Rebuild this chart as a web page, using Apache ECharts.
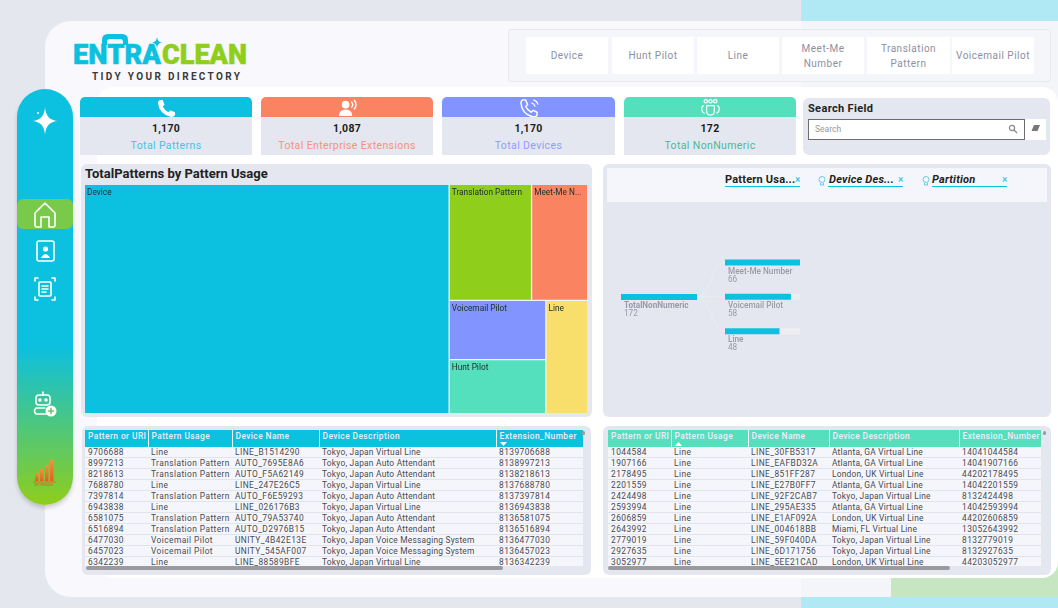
<!DOCTYPE html>
<html>
<head>
<meta charset="utf-8">
<title>EntraClean</title>
<script src="https://cdn.jsdelivr.net/npm/echarts@6/dist/echarts.min.js"></script>
<style>
html,body{margin:0;padding:0;width:1058px;height:608px;overflow:hidden;background:#e4e7ee;font-family:Roboto,"Noto Sans",sans-serif;}
.abs{position:absolute;box-sizing:border-box;}
.panel{background:#e4e7ef;border-radius:6px;}
.nav-btn{background:#fff;color:#8c8fa0;font-size:10px;letter-spacing:.5px;line-height:15px;display:flex;align-items:center;justify-content:center;text-align:center;}
.card-top{border-radius:5px 5px 0 0;display:flex;align-items:center;justify-content:center;}
.card-body{background:#e4e7ef;text-align:center;}
.card-value{font-size:10.5px;font-weight:700;color:#1c1c1c;margin-top:5px;letter-spacing:.3px;}
.card-label{font-size:10.5px;margin-top:4px;letter-spacing:.38px;}
.tbl{background:#f5f6fb;overflow:hidden;}
.tbl table{border-collapse:collapse;table-layout:fixed;font-size:8.4px;letter-spacing:.42px;color:#4a4a50;}
.tbl th{height:17px;padding:0 0 5px 3px;text-align:left;font-weight:500;color:#eef;border-right:1px solid rgba(255,255,255,.35);white-space:nowrap;overflow:hidden;box-sizing:border-box;}
.tbl td{height:10.9px;line-height:8.9px;padding:1px 0 0 3px;border-bottom:1px solid #e2e4ec;white-space:nowrap;overflow:hidden;box-sizing:border-box;}
.tbl td:nth-child(4){letter-spacing:.22px;}
.filter{font-size:11px;font-weight:700;color:#222;letter-spacing:.2px;}
</style>
</head>
<body>
<div class="abs" style="left:801px;top:0;width:257px;height:608px;background:#b0e9f3"></div>
<div class="abs" style="left:45px;top:21px;width:1040px;height:576px;background:#f8f8fd;border-radius:26px"></div>
<div class="abs" style="left:801px;top:21px;width:257px;height:576px;background:#f4f5f9"></div>
<div class="abs" style="left:891px;top:540px;width:167px;height:57px;background:#c6e6c2;border-radius:12px 0 0 0"></div>
<div class="abs" style="left:97px;top:87px;width:961px;height:491px;background:#fff;border-radius:16px"></div>
<div class="abs" style="left:17px;top:89px;width:56px;height:416px;border-radius:28px;background:linear-gradient(180deg,#0cc0df 0%,#0cc0df 62%,#8fce1b 100%);box-shadow:0 3px 4px rgba(0,0,0,.18)"></div>
<div class="abs" style="left:17px;top:199px;width:56px;height:30px;border-radius:6px;background:#79c94b"></div>

<!-- sidebar icons -->
<svg class="abs" style="left:17px;top:89px" width="56" height="416" viewBox="0 0 56 416" fill="none" stroke="#fff" stroke-width="1.6" stroke-linejoin="round" stroke-linecap="round">
<path d="M28 18 Q28.700 31.300 41 32 Q28.700 32.700 28 46 Q27.300 32.700 15 32 Q27.300 31.300 28 18Z" fill="#fff" stroke="none"/>
<circle cx="21" cy="24" r="1" fill="#fff" stroke="none"/>
<path d="M18 136 V124 L28 114 L38 124 V136 Q38 138 36 138 H32 V128 H24 V138 H20 Q18 138 18 136Z"/>
<rect x="20" y="152" width="17" height="20" rx="2"/><circle cx="28.500" cy="160" r="2.600" fill="#fff" stroke="none"/><path d="M24 169 Q28.500 161 33 169Z" fill="#fff" stroke="none"/>
<rect x="22" y="193" width="12" height="14" rx="1"/><path d="M25 197 H31 M25 200 H31 M25 203 H29"/>
<path d="M18 192 V189 H21 M35 189 H38 V192 M38 208 V211 H35 M21 211 H18 V208"/>
<rect x="19" y="306" width="14" height="10" rx="3"/><path d="M26 306 V303 M19 325 H31 M19 319 H28 M19 319 Q16 322 19 325"/><circle cx="23" cy="311" r="1" fill="#fff"/><circle cx="29" cy="311" r="1" fill="#fff"/>
<circle cx="34" cy="322" r="5.500" fill="#fff" stroke="none"/><path d="M34 319.500 V324.500 M31.500 322 H36.500" stroke="#6cc76a"/>
</svg>
<svg class="abs" style="left:30px;top:458px" width="28" height="30" viewBox="0 0 28 30">
<defs><linearGradient id="barFill" x1="0" y1="0" x2="0" y2="1"><stop offset="0" stop-color="#f0953a"/><stop offset="1" stop-color="#e0601f"/></linearGradient></defs>
<g fill="url(#barFill)"><rect x="5" y="15" width="3.500" height="8"/><rect x="10" y="11" width="3.500" height="12"/><rect x="15" y="7" width="3.500" height="16"/><rect x="20" y="2" width="3.500" height="21"/></g>
<path d="M3 24 H26" stroke="#e0601f" stroke-width=".8"/>
<text x="14" y="28" font-size="3.300" text-anchor="middle" fill="#d9602a">METRIMAGE</text>
</svg>

<!-- logo -->
<svg class="abs" style="left:70px;top:30px" width="185" height="56" viewBox="0 0 185 56">
<path d="M32 15 V10 Q32 4 38 4 H52 Q58 4 58 10 V15 H53 V12 Q53 9 50 9 H40 Q37 9 37 12 V15Z" fill="#0cc0df"/>
<text x="3" y="34" font-family="Roboto" font-weight="900" font-size="27" fill="#0cc0df" stroke="#0cc0df" stroke-width=".5" textLength="88" lengthAdjust="spacingAndGlyphs">ENTRA</text>
<text x="92" y="34" font-family="Roboto" font-weight="900" font-size="27" fill="#8fce1b" stroke="#8fce1b" stroke-width=".5" textLength="85" lengthAdjust="spacingAndGlyphs">CLEAN</text>
<path d="M87 7 Q87.500 12 92 12.500 Q87.500 13 87 18 Q86.500 13 82 12.500 Q86.500 12 87 7Z" fill="#0cc0df"/>
</svg>
<div class="abs" style="left:92px;top:71px;font-size:10px;font-weight:700;letter-spacing:2.35px;color:#3a3a3a;white-space:nowrap">TIDY YOUR DIRECTORY</div>

<!-- usage buttons -->
<div class="abs" style="left:508px;top:29px;width:543px;height:53px;background:#f5f6fa;border:1px solid #e8e9ef;border-radius:3px"></div>
<div id="navBtns"></div>

<div id="cards"></div>

<!-- search -->
<div class="abs panel" style="left:803px;top:98px;width:247px;height:57px"></div>
<div class="abs" style="left:808px;top:102px;font-size:11px;font-weight:700;color:#222;letter-spacing:.35px">Search Field</div>
<div class="abs" style="left:808px;top:119px;width:217px;height:21px;background:#fff;border:1px solid #6d6d6d;font-size:8.500px;color:#999;line-height:19px;padding-left:6px">Search</div>
<div class="abs" style="left:1025px;top:119px;width:21px;height:21px;background:#fff"></div>
<svg class="abs" style="left:1008px;top:124px" width="10" height="10" viewBox="0 0 10 10" fill="none" stroke="#888" stroke-width="1.200"><circle cx="4" cy="4" r="2.600"/><path d="M6 6 L9 9"/></svg>
<svg class="abs" style="left:1030px;top:124px" width="11" height="10" viewBox="0 0 11 10"><path d="M4 1 H10 L7.500 7 H1.500Z" fill="#777"/></svg>

<!-- treemap panel -->
<div class="abs panel" style="left:81px;top:164px;width:511px;height:253px"></div>
<div class="abs" style="left:85px;top:166px;font-size:13px;font-weight:700;color:#222;letter-spacing:.02px;white-space:nowrap">TotalPatterns by Pattern Usage</div>
<div id="treemap" class="abs" style="left:84px;top:184px;width:504px;height:230px"></div>

<!-- decomposition panel -->
<div class="abs panel" style="left:603px;top:164px;width:448px;height:253px"></div>
<div class="abs" style="left:607px;top:168px;width:440px;height:34px;background:#f5f6fb"></div>
<div id="filters"></div>
<div id="decomp" class="abs" style="left:603px;top:204px;width:448px;height:210px"></div>

<!-- tables -->
<div class="abs panel" style="left:82px;top:426px;width:509px;height:149px"></div>
<div id="tableOne" class="abs tbl" style="left:85px;top:430px;width:498px;height:136px"></div>
<div class="abs" style="left:86px;top:566px;width:417px;height:3.500px;background:#9b9b9f;border-radius:2px"></div>
<div class="abs" style="left:582px;top:431px;width:3px;height:4px;background:#9b9b9f;border-radius:2px"></div>

<div class="abs panel" style="left:603px;top:426px;width:448px;height:149px"></div>
<div id="tableTwo" class="abs tbl" style="left:608px;top:430px;width:433px;height:136px"></div>
<div class="abs" style="left:608px;top:566px;width:342px;height:3.500px;background:#9b9b9f;border-radius:2px"></div>
<div class="abs" style="left:1043px;top:431px;width:3px;height:4px;background:#9b9b9f;border-radius:2px"></div>

<script>
var navLabels = ["Device","Hunt Pilot","Line","Meet-Me<br>Number","Translation<br>Pattern","Voicemail Pilot"];

var cardLabels = ["Total Patterns","Total Enterprise Extensions","Total Devices","Total NonNumeric"];
var cardValues = ["1,170","1,087","1,170","172"];

var usageNames = ["Device","Translation Pattern","Meet-Me Number","Voicemail Pilot","Hunt Pilot","Line"];
var usageValues = [848,97,66,58,53,48];
var usageColors = ["#0cc0df","#8fce1b","#fa8461","#8294ff","#55e0bd","#f8df6b"];

var treeRootName = "TotalNonNumeric";
var treeRootValue = 172;
var treeNames = ["Meet-Me Number","Voicemail Pilot","Line"];
var treeValues = [66,58,48];
var filterNames = ["Pattern Usa...","Device Des...","Partition"];

var tableHeaders = ["Pattern or URI","Pattern Usage","Device Name","Device Description","Extension_Number"];
var tableOneRows = [
    ["9706688","Line","LINE_B1514290","Tokyo, Japan Virtual Line","8139706688"],
    ["8997213","Translation Pattern","AUTO_7695E8A6","Tokyo, Japan Auto Attendant","8138997213"],
    ["8218613","Translation Pattern","AUTO_F5A62149","Tokyo, Japan Auto Attendant","8138218613"],
    ["7688780","Line","LINE_247E26C5","Tokyo, Japan Virtual Line","8137688780"],
    ["7397814","Translation Pattern","AUTO_F6E59293","Tokyo, Japan Auto Attendant","8137397814"],
    ["6943838","Line","LINE_026176B3","Tokyo, Japan Virtual Line","8136943838"],
    ["6581075","Translation Pattern","AUTO_79A53740","Tokyo, Japan Auto Attendant","8136581075"],
    ["6516894","Translation Pattern","AUTO_D2976B15","Tokyo, Japan Auto Attendant","8136516894"],
    ["6477030","Voicemail Pilot","UNITY_4B42E13E","Tokyo, Japan Voice Messaging System","8136477030"],
    ["6457023","Voicemail Pilot","UNITY_545AF007","Tokyo, Japan Voice Messaging System","8136457023"],
    ["6342239","Line","LINE_88589BFE","Tokyo, Japan Virtual Line","8136342239"]
];
var tableTwoRows = [
    ["1044584","Line","LINE_30FB5317","Atlanta, GA Virtual Line","14041044584"],
    ["1907166","Line","LINE_EAFBD32A","Atlanta, GA Virtual Line","14041907166"],
    ["2178495","Line","LINE_851FF287","London, UK Virtual Line","44202178495"],
    ["2201559","Line","LINE_E27B0FF7","Atlanta, GA Virtual Line","14042201559"],
    ["2424498","Line","LINE_92F2CAB7","Tokyo, Japan Virtual Line","8132424498"],
    ["2593994","Line","LINE_295AE335","Atlanta, GA Virtual Line","14042593994"],
    ["2606859","Line","LINE_E1AF092A","London, UK Virtual Line","44202606859"],
    ["2643992","Line","LINE_004618BB","Miami, FL Virtual Line","13052643992"],
    ["2779019","Line","LINE_59F040DA","Tokyo, Japan Virtual Line","8132779019"],
    ["2927635","Line","LINE_6D171756","Tokyo, Japan Virtual Line","8132927635"],
    ["3052977","Line","LINE_5EE21CAD","London, UK Virtual Line","44203052977"]
];

var cardIcons = [
    '<path d="M4 2 L7 2 L9 7 L7 9 Q9 13 13 15 L15 13 L20 15 L20 18 Q19 20 16 20 Q3 17 2 5 Q2 3 4 2Z" fill="#fff"/>',
    '<circle cx="9" cy="7" r="4" fill="#fff"/><path d="M2 19 Q2 12 9 12 Q16 12 16 19Z" fill="#fff"/><path d="M15 4 Q18 7 15 10 M18 2 Q22 7 18 12" fill="none" stroke="#fff" stroke-width="1.500"/>',
    '<path d="M5 2 L8 2 L10 7 L8 9 Q10 13 14 15 L16 13 L20 15 L20 18 Q19 20 16 20 Q4 17 3 5 Q3 3 5 2Z" fill="none" stroke="#fff" stroke-width="1.500"/><path d="M14 5 Q17 6 18 9 M16 2 Q20 3 21 7" fill="none" stroke="#fff" stroke-width="1.300"/>',
    '<g fill="none" stroke="#fff" stroke-width="1.200"><circle cx="6" cy="3.500" r="1.800"/><circle cx="11" cy="3.500" r="1.800"/><circle cx="16" cy="3.500" r="1.800"/><path d="M7 8 H15 V14 Q15 18 11 18 Q7 18 7 14Z"/><path d="M4 8 Q1 9 2 13 Q3 16 5 16 M18 8 Q21 9 20 13 Q19 16 17 16"/></g>'
];

function buildNav(){
    var lefts = [526,612,697,782,867,952], widths = [82,82,82,82,83,82], html = "";
    navLabels.forEach(function(label,index){
        html += '<div class="abs nav-btn" style="left:'+lefts[index]+'px;top:37px;width:'+widths[index]+'px;height:37px">'+label+'</div>';
    });
    document.getElementById("navBtns").innerHTML = html;
}

function buildCards(){
    var lefts = [80,261,442,624], widths = [172,172,173,172], html = "";
    cardLabels.forEach(function(label,index){
        var color = usageCardColor(index);
        html += '<div class="abs card-top" style="left:'+lefts[index]+'px;top:97px;width:'+widths[index]+'px;height:20px;background:'+color+'">'
            + '<svg width="21" height="19" viewBox="0 0 22 20">'+cardIcons[index]+'</svg></div>';
        html += '<div class="abs card-body" style="left:'+lefts[index]+'px;top:117px;width:'+widths[index]+'px;height:38px">'
            + '<div class="card-value">'+cardValues[index]+'</div>'
            + '<div class="card-label" style="color:'+cardTextColor(index)+'">'+label+'</div></div>';
    });
    document.getElementById("cards").innerHTML = html;
}

function usageCardColor(index){
    return ["#0cc0df","#fa8461","#8294ff","#55e0bd"][index];
}

function cardTextColor(index){
    return ["#3cc6e4","#f9907a","#8f9dff","#4cb89c"][index];
}

function buildFilters(){
    var textLefts = [725,829,932], underlines = [725,828,932], html = "";
    filterNames.forEach(function(name,index){
        var italic = index > 0 ? "font-style:italic;" : "";
        html += '<div class="abs filter" style="left:'+textLefts[index]+'px;top:173px;'+italic+'white-space:nowrap">'+name+'</div>';
        html += '<div class="abs" style="left:'+underlines[index]+'px;top:186px;width:75px;height:1px;background:#0cc0df"></div>';
        html += '<div class="abs" style="left:'+(underlines[index]+70)+'px;top:174px;font-size:10px;color:#0cc0df">×</div>';
        if(index > 0){
            html += '<svg class="abs" style="left:'+(underlines[index]-10)+'px;top:176px" width="8" height="10" viewBox="0 0 8 10" fill="none" stroke="#55c5e2" stroke-width=".9"><circle cx="4" cy="3.500" r="3"/><path d="M2.500 7 V9 H5.500 V7"/></svg>';
        }
    });
    document.getElementById("filters").innerHTML = html;
}

function buildTable(id,headColor,widths,rows,sortCol,sortUp){
    var html = '<table style="width:'+widths.reduce(function(a,b){return a+b;},0)+'px"><colgroup>';
    widths.forEach(function(w){ html += '<col style="width:'+w+'px">'; });
    html += '</colgroup><thead><tr>';
    tableHeaders.forEach(function(name,index){
        html += '<th style="background:'+headColor+';position:relative">'+name;
        if(index === sortCol){
            html += '<svg style="position:absolute;left:3px;top:12px" width="7" height="4" viewBox="0 0 7 4"><path d="'+(sortUp ? "M0 4 L3.500 0 L7 4Z" : "M0 0 L3.500 4 L7 0Z")+'" fill="#fff"/></svg>';
        }
        html += '</th>';
    });
    html += '</tr></thead><tbody>';
    rows.forEach(function(row){
        html += '<tr>';
        row.forEach(function(cell){ html += '<td>'+cell+'</td>'; });
        html += '</tr>';
    });
    html += '</tbody></table>';
    document.getElementById(id).innerHTML = html;
}

function initTreemap(){
    var chart = echarts.init(document.getElementById("treemap"));
    var data = usageNames.map(function(name,index){
        return {name:name,value:usageValues[index],itemStyle:{color:usageColors[index]}};
    });
    chart.setOption({
        animation:false,
        tooltip:{show:false},
        series:[{
            type:"treemap",
            left:1,right:1,top:1,bottom:1,
            roam:false,
            nodeClick:false,
            breadcrumb:{show:false},
            label:{show:true,position:"insideTopLeft",distance:0,padding:[4,0,4,2],fontSize:8.3,fontFamily:"Roboto",color:"#20302f",overflow:"truncate",ellipsis:"..."},
            upperLabel:{show:false},
            itemStyle:{borderWidth:0,gapWidth:1.3,borderColor:"#f1f4f8"},
            levels:[{itemStyle:{gapWidth:1.300,borderWidth:0}},{itemStyle:{borderWidth:0}}],
            data:data
        }]
    });
}

function initDecomp(){
    var chart = echarts.init(document.getElementById("decomp"));
    var track = "#eceef2";
    var barLabel = function(nameStyle){
        return {
            show:true,
            position:[3,8],
            formatter:function(p){ return "{n|"+p.name+"}\n{v|"+p.value+"}"; },
            rich:{
                n:{fontSize:8.2,fontWeight:nameStyle,color:"#9a9aa8",lineHeight:8,fontFamily:"Roboto"},
                v:{fontSize:8.2,color:"#9a9aa8",lineHeight:8,fontFamily:"Roboto"}
            }
        };
    };
    chart.setOption({
        animation:false,
        grid:[
            {left:18,width:76,top:75.85,height:34.3},
            {left:122,width:75,top:41.35,height:103}
        ],
        xAxis:[
            {gridIndex:0,type:"value",min:0,max:treeRootValue,show:false},
            {gridIndex:1,type:"value",min:0,max:treeValues[0],show:false}
        ],
        yAxis:[
            {gridIndex:0,type:"category",data:[treeRootName],show:false},
            {gridIndex:1,type:"category",inverse:true,data:treeNames,show:false}
        ],
        series:[
            {type:"bar",xAxisIndex:0,yAxisIndex:0,barWidth:6,data:[treeRootValue],itemStyle:{color:"#0cc0df"},label:barLabel(700)},
            {type:"bar",xAxisIndex:1,yAxisIndex:1,barWidth:6,data:treeValues,itemStyle:{color:"#0cc0df"},showBackground:true,backgroundStyle:{color:track},label:barLabel(500)}
        ]
    });
    // connectors from the root bar to each child bar
    var start = chart.convertToPixel({gridIndex:0},[treeRootValue,treeRootName]);
    var links = treeNames.map(function(name){
        var end = chart.convertToPixel({gridIndex:1},[0,name]);
        var mid = (start[0]+end[0])/2;
        return {
            type:"bezierCurve",
            shape:{x1:start[0],y1:start[1],x2:end[0],y2:end[1],cpx1:mid,cpy1:start[1],cpx2:mid,cpy2:end[1]},
            style:{fill:null,stroke:"#eaecf1",lineWidth:1}
        };
    });
    chart.setOption({graphic:links});
}

function init(){
    buildNav();
    buildCards();
    buildFilters();
    buildTable("tableOne","#0cc0df",[63,84,87,177,87],tableOneRows,4,false);
    buildTable("tableTwo","#55e0bd",[63,77,81,130,82],tableTwoRows,1,true);
    initTreemap();
    initDecomp();
}

init();
</script>
</body>
</html>
